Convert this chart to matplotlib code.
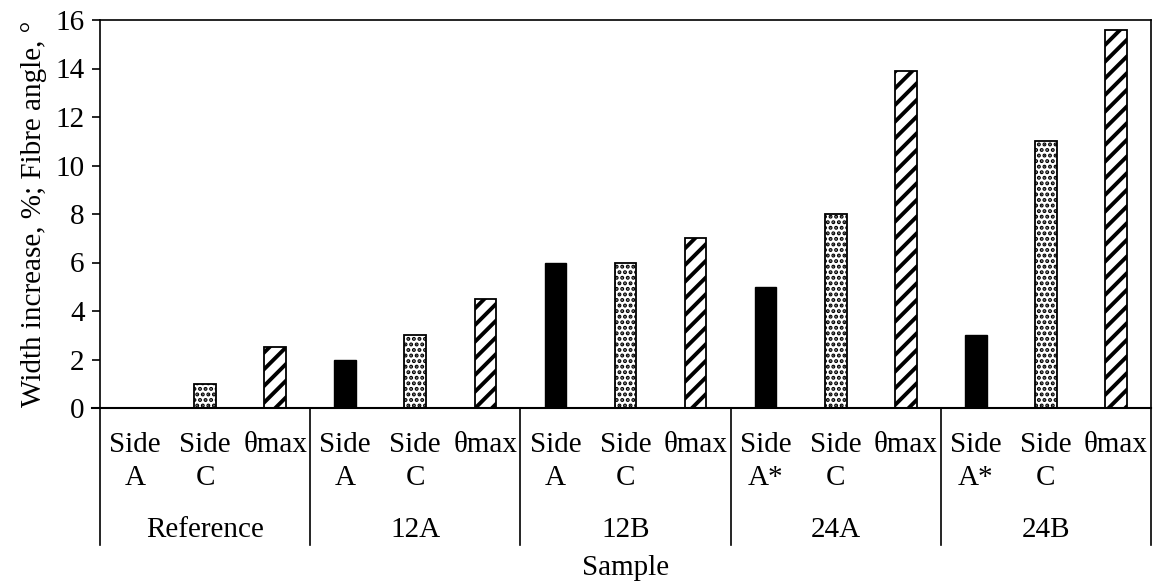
import numpy as np
import matplotlib
matplotlib.use("Agg")
import matplotlib.pyplot as plt

plt.rcParams['font.family'] = ['Liberation Serif', 'DejaVu Serif']

# data
groups = ['Reference', '12A', '12B', '24A', '24B']
side_a = [0, 2, 6, 5, 3]
side_c = [1, 3, 6, 8, 11]
theta_max = [2.5, 4.5, 7, 13.9, 15.6]
leaf_top = ['Side', 'Side', '\u03b8max']
leaf_bottom = [['A', 'C', ''], ['A', 'C', ''], ['A', 'C', ''],
               ['A*', 'C', ''], ['A*', 'C', '']]

fs = 21
fig = plt.figure(figsize=(11.53, 5.85), dpi=100)
ax = fig.add_axes([100/1153, 1 - 408/585, 1051/1153, 388/585])

gx = np.arange(len(groups)) * 3
w = 0.31
ax.bar(gx, side_a, w, color='black', edgecolor='black', linewidth=1)
with plt.rc_context({'hatch.linewidth': 2.0}):
    ax.bar(gx + 1, side_c, w, color='white', edgecolor='black', linewidth=1.3, hatch='...')
with plt.rc_context({'hatch.linewidth': 2.8}):
    ax.bar(gx + 2, theta_max, w, color='white', edgecolor='black', linewidth=1.3, hatch='//')

ax.set_xlim(-0.5, len(groups) * 3 - 0.5)
ax.set_ylim(0, 16)
ax.set_yticks(np.arange(0, 17, 2))
ax.tick_params(axis='y', labelsize=fs, length=6, width=1.2, direction='out', pad=5)
ax.set_xticks([])
for s in ax.spines.values():
    s.set_linewidth(1.2)
ax.spines['bottom'].set_linewidth(1.5)

# multi-level category axis
tr = ax.get_xaxis_transform()
for i in range(len(groups) + 1):
    ax.plot([i * 3 - 0.5] * 2, [0, -0.353], transform=tr, color='black',
            lw=1.2, clip_on=False)
ax.plot([-0.5 - 0.12, -0.5], [0, 0], transform=tr, color='black', lw=1.5, clip_on=False)
for g, name in enumerate(groups):
    for k in range(3):
        ax.text(g * 3 + k, -0.095, leaf_top[k], transform=tr, ha='center',
                va='center', fontsize=fs)
        ax.text(g * 3 + k, -0.18, leaf_bottom[g][k], transform=tr, ha='center',
                va='center', fontsize=fs)
    ax.text(g * 3 + 1, -0.314, name, transform=tr, ha='center', va='center', fontsize=fs)

ax.text(0.5, -0.412, 'Sample', transform=ax.transAxes, ha='center', va='center', fontsize=fs)
ax.set_ylabel('Width increase, %; Fibre angle, \u00b0', fontsize=fs, labelpad=6)

fig.savefig('out.png', dpi=100)
